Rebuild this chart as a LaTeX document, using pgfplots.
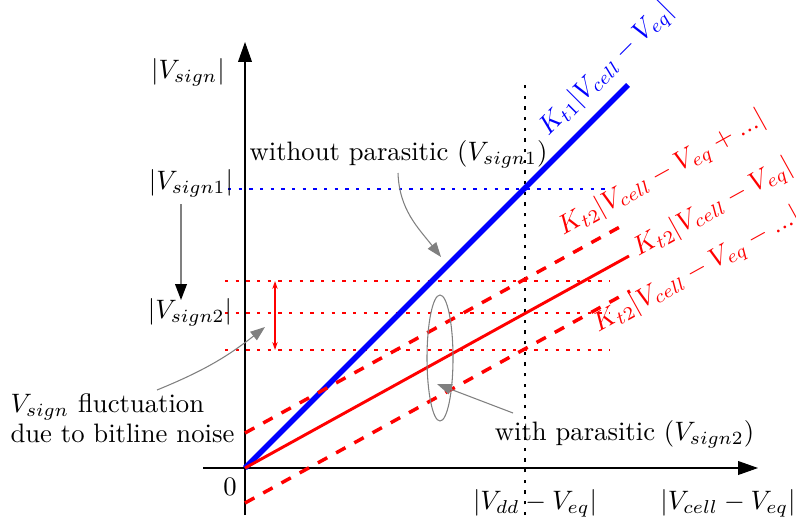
\documentclass[border=0pt]{standalone}
\usepackage{pgfplots}
\pgfplotsset{compat=1.18}
\usetikzlibrary{arrows.meta}
\begin{document}
\begin{tikzpicture}
\begin{axis}[
  width=298.5pt, height=196.875pt, scale only axis,
  xmin=-245, xmax=551, ymin=-57, ymax=468,
  hide axis, clip=false,
]
% guide lines at the reading points
\addplot[blue, line width=0.4pt, dash pattern=on 1.2pt off 2.8pt] coordinates {(-17,279) (367,279)};
\addplot[red, line width=0.4pt, dash pattern=on 1.2pt off 2.8pt] coordinates {(-20,187) (365,187)};
\addplot[red, line width=0.4pt, dash pattern=on 1.2pt off 2.8pt] coordinates {(-20,155) (365,155)};
\addplot[red, line width=0.4pt, dash pattern=on 1.2pt off 2.8pt] coordinates {(-20,118) (365,118)};
\addplot[black, line width=0.4pt, dash pattern=on 1.2pt off 2.8pt] coordinates {(280,-47) (280,390)};

% axes
\draw[line width=0.4pt, -{Triangle[length=7.5pt,width=5.2pt]}] (axis cs:0,-47) -- (axis cs:0,426);
\draw[line width=0.4pt, -{Triangle[length=7.5pt,width=5.2pt]}] (axis cs:-42,0) -- (axis cs:513,0);

% characteristics
\addplot[blue, line width=2pt] coordinates {(0,0) (383,383)};
\addplot[red, line width=1.1pt] coordinates {(0,0) (384,212)};
\addplot[red, line width=1.3pt, dash pattern=on 4pt off 3.8pt] coordinates {(0,35) (382,245)};
\addplot[red, line width=1.3pt, dash pattern=on 4pt off 3.8pt] coordinates {(0,-35) (385,177)};

% line labels
\node[blue, rotate=45, anchor=base west, inner sep=0pt] at (axis cs:303,331) {$K_{t1}|V_{cell}-V_{eq}|$};
\node[red, rotate=29, anchor=base west, inner sep=0pt] at (axis cs:318,232) {$K_{t2}|V_{cell}-V_{eq}+...|$};
\node[red, rotate=29, anchor=base west, inner sep=0pt] at (axis cs:393,211) {$K_{t2}|V_{cell}-V_{eq}|$};
\node[red, rotate=29, anchor=base west, inner sep=0pt] at (axis cs:353,135) {$K_{t2}|V_{cell}-V_{eq}-...|$};

% axis labels
\node at (axis cs:-57,396) {$|V_{sign}|$};
\node at (axis cs:-54,285) {$|V_{sign1}|$};
\node at (axis cs:-55,156) {$|V_{sign2}|$};
\node at (axis cs:-15,-19) {$0$};
\node at (axis cs:290,-35) {$|V_{dd}-V_{eq}|$};
\node at (axis cs:483,-35) {$|V_{cell}-V_{eq}|$};

% annotations
\node[anchor=base] at (axis cs:153.5,308) {without parasitic ($V_{sign1}$)};
\node[anchor=base] at (axis cs:379.5,28) {with parasitic ($V_{sign2}$)};
\node[anchor=base west, inner sep=0pt] at (axis cs:-235,56) {$V_{sign}$ fluctuation};
\node[anchor=base west, inner sep=0pt] at (axis cs:-235,26) {due to bitline noise};

\draw[gray, -{Triangle[length=5.5pt,width=4pt]}] (axis cs:153,295) to[out=-88,in=128] (axis cs:196,211);
\draw[gray, -{Triangle[length=5.5pt,width=4pt]}] (axis cs:-88,78) to[bend right=8] (axis cs:20,141);
\draw[gray, -{Triangle[length=5.5pt,width=4pt]}] (axis cs:268,55) -- (axis cs:192,84);
\draw[gray, line width=0.6pt, -{Triangle[color=black,length=6pt,width=4.4pt]}] (axis cs:-64,264) -- (axis cs:-64,168);
\draw[red, line width=0.5pt, {Stealth[length=3pt,width=2pt]}-{Stealth[length=3pt,width=2pt]}] (axis cs:30,187) -- (axis cs:30,118);
\draw[gray] (axis cs:195,110) ellipse [x radius=13, y radius=63];
\end{axis}
% the page is the axis area
\pgfresetboundingbox
\useasboundingbox (current axis.south west) rectangle (current axis.north east);
\end{tikzpicture}
\end{document}
